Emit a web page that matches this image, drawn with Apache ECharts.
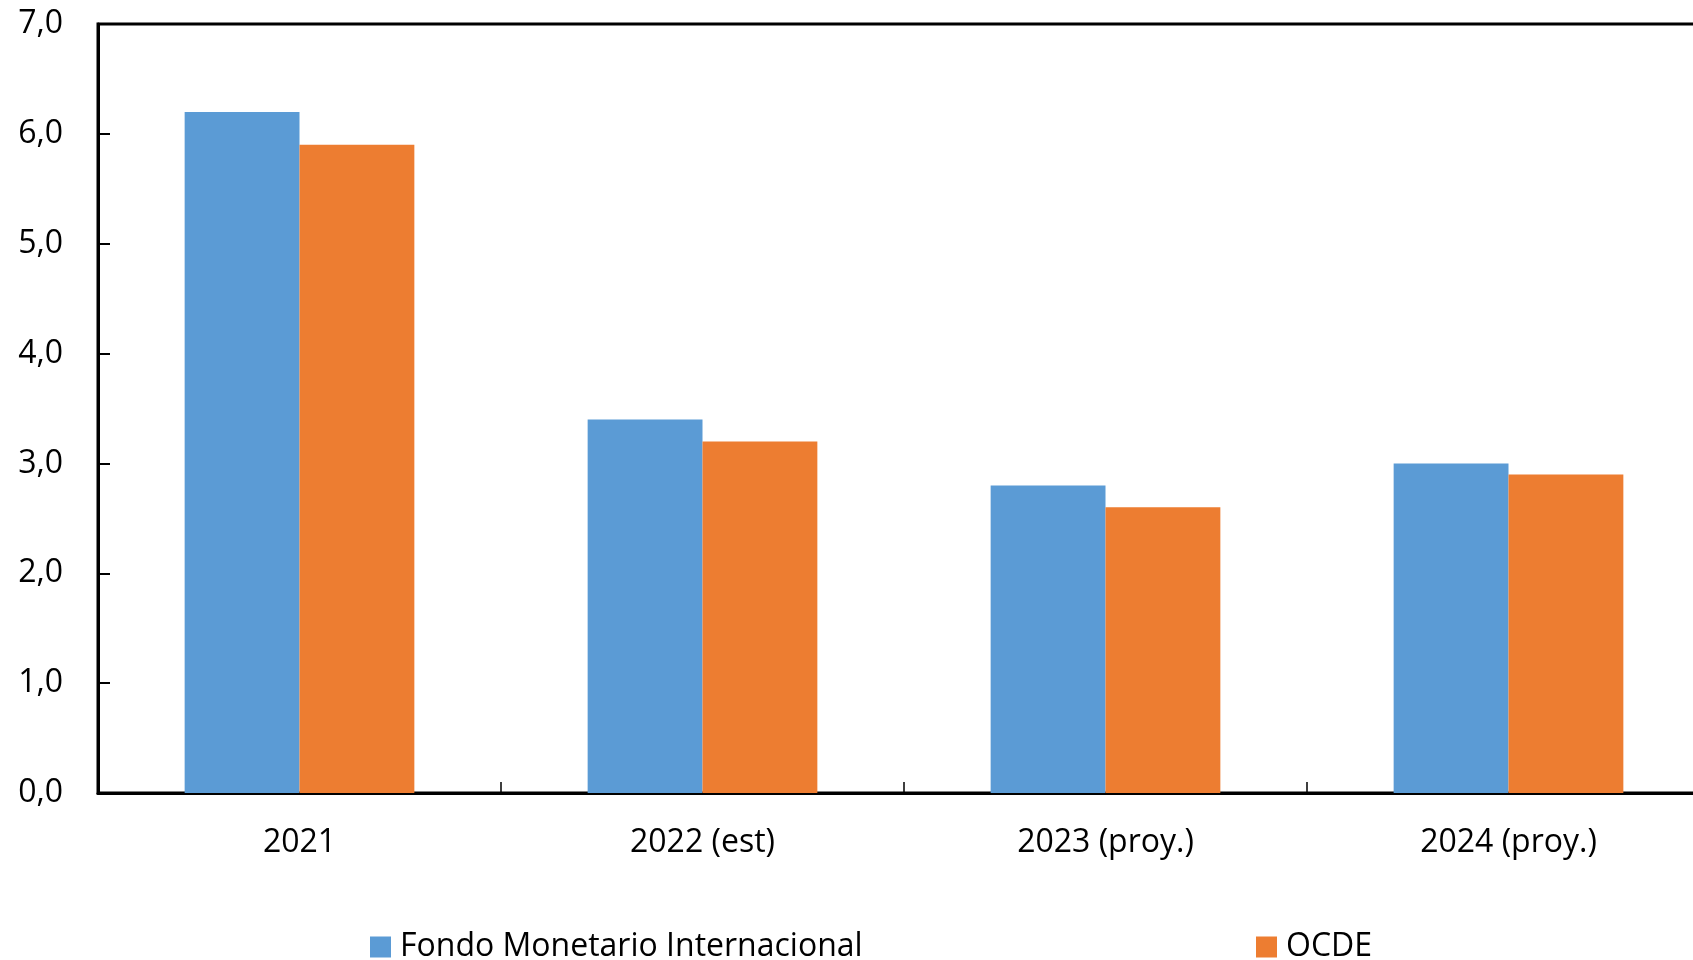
<!DOCTYPE html>
<html>
<head>
<meta charset="utf-8">
<script src="https://cdn.jsdelivr.net/npm/echarts@6/dist/echarts.min.js"></script>
<style>
html,body{margin:0;padding:0;background:#fff;overflow:hidden;}
#chart{width:1710px;height:960px;}
</style>
</head>
<body>
<div id="chart"></div>
<script>
var categories = ['2021', '2022 (est)', '2023 (proy.)', '2024 (proy.)'];
var fmiValues = [6.2, 3.4, 2.8, 3.0];
var ocdeValues = [5.9, 3.2, 2.6, 2.9];
var seriesNames = ['Fondo Monetario Internacional', 'OCDE'];

var FONT = '"Open Sans", sans-serif';
var chart = echarts.init(document.getElementById('chart'), null, {renderer: 'canvas'});
chart.setOption({
  animation: false,
  backgroundColor: '#ffffff',
  grid: {
    left: 98, top: 24, bottom: 167, right: 0,
    outerBoundsMode: 'none',
    show: true, borderColor: '#000', borderWidth: 3, backgroundColor: 'transparent'
  },
  legend: [{
    data: [seriesNames[0]],
    left: 365, top: 926,
    itemWidth: 21, itemHeight: 21,
    icon: 'rect',
    textStyle: {fontFamily: FONT, fontSize: 32, color: '#000', padding: [0, 0, 0, 4]}
  }, {
    data: [seriesNames[1]],
    left: 1251, top: 926,
    itemWidth: 21, itemHeight: 21,
    icon: 'rect',
    textStyle: {fontFamily: FONT, fontSize: 32, color: '#000', padding: [0, 0, 0, 4]}
  }],
  xAxis: {
    type: 'category',
    data: categories,
    axisLine: {show: true, lineStyle: {color: '#000', width: 3}},
    axisTick: {show: true, inside: true, length: 11, alignWithLabel: false, lineStyle: {color: '#000', width: 1.5}},
    axisLabel: {fontFamily: FONT, fontSize: 32, color: '#000', margin: 34},
    splitLine: {show: false}
  },
  yAxis: {
    type: 'value',
    min: 0, max: 7, interval: 1,
    axisLine: {show: true, lineStyle: {color: '#000', width: 3}},
    axisTick: {show: true, inside: true, length: 12, lineStyle: {color: '#000', width: 2}},
    axisLabel: {
      fontFamily: FONT, fontSize: 32, color: '#000', margin: 35,
      formatter: function (v) { return v.toFixed(1).replace('.', ','); }
    },
    splitLine: {show: false}
  },
  series: [{
    name: seriesNames[0],
    type: 'bar',
    data: fmiValues,
    barGap: '0%',
    barCategoryGap: '43%',
    itemStyle: {color: '#5B9BD5'}
  }, {
    name: seriesNames[1],
    type: 'bar',
    data: ocdeValues,
    barGap: '0%',
    barCategoryGap: '43%',
    itemStyle: {color: '#ED7D31'}
  }]
});
</script>
</body>
</html>
